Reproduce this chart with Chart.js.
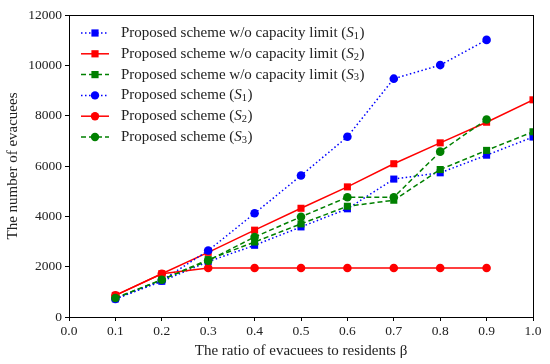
<!DOCTYPE html>
<html>
<head>
<meta charset="utf-8">
<script src="https://cdn.jsdelivr.net/npm/chart.js@4"></script>
<style>
  html, body { margin: 0; padding: 0; background: #fff; }
  #wrap { width: 550px; height: 364px; }
</style>
</head>
<body>
<div id="wrap"><canvas id="chart"></canvas></div>
<script>
// ratio of evacuees to residents (beta)
const beta = [0.1, 0.2, 0.3, 0.4, 0.5, 0.6, 0.7, 0.8, 0.9, 1.0];
const yTicks = [0, 2000, 4000, 6000, 8000, 10000, 12000];

// w/o capacity limit
const noLimitS1 = [720, 1420, 2200, 2850, 3580, 4300, 5480, 5730, 6430, 7150];
const noLimitS2 = [860, 1720, 2570, 3450, 4320, 5170, 6090, 6920, 7740, 8630];
const noLimitS3 = [740, 1480, 2280, 2980, 3700, 4400, 4640, 5860, 6620, 7360];
// with capacity limit (no point at 1.0)
const schemeS1 = [720, 1450, 2640, 4120, 5620, 7160, 9470, 10010, 11010];
const schemeS2 = [860, 1720, 1950, 1950, 1950, 1950, 1950, 1950, 1950];
const schemeS3 = [755, 1480, 2240, 3180, 3980, 4760, 4760, 6570, 7850];

const legendNames = [
  ['Proposed scheme w/o capacity limit (', '1'],
  ['Proposed scheme w/o capacity limit (', '2'],
  ['Proposed scheme w/o capacity limit (', '3'],
  ['Proposed scheme (', '1'],
  ['Proposed scheme (', '2'],
  ['Proposed scheme (', '3']
];

const BLUE = '#0000ff', RED = '#ff0000', GREEN = '#008000';
const DOT = [1.5, 2.5], DASH = [5, 3];
const FONT = "'Liberation Serif', 'DejaVu Serif', serif";

function pts(arr) { return arr.map((v, i) => ({ x: beta[i], y: v })); }

function mkSet(label, data, color, dash, shape, idx) {
  return {
    label: label,
    data: pts(data),
    borderColor: color,
    backgroundColor: color,
    borderWidth: 1.5,
    borderDash: dash,
    pointStyle: shape,
    pointRadius: shape === 'rect' ? 5 : 4.3,
    pointBorderWidth: 0,
    pointHoverRadius: 5,
    tension: 0,
    fill: false,
    order: 10 - idx
  };
}

const sets = [
  mkSet(legendNames[0].join(''), noLimitS1, BLUE, DOT, 'rect', 0),
  mkSet(legendNames[1].join(''), noLimitS2, RED, [], 'rect', 1),
  mkSet(legendNames[2].join(''), noLimitS3, GREEN, DASH, 'rect', 2),
  mkSet(legendNames[3].join(''), schemeS1, BLUE, DOT, 'circle', 3),
  mkSet(legendNames[4].join(''), schemeS2, RED, [], 'circle', 4),
  mkSet(legendNames[5].join(''), schemeS3, GREEN, DASH, 'circle', 5)
];

/* ─── box around plot + in-plot legend ─── */
const framePlugin = {
  id: 'frame',
  afterDraw(chart) {
    const { ctx, chartArea: a } = chart;
    ctx.save();
    ctx.strokeStyle = '#000';
    ctx.lineWidth = 1;
    ctx.strokeRect(Math.round(a.left) + 0.5, Math.round(a.top) + 0.5,
                   Math.round(a.right - a.left), Math.round(a.bottom - a.top));

    // legend
    const x0 = a.left + 12, rowH = 20.8, y0 = a.top + 18;
    const fs = 15;
    ctx.textBaseline = 'middle';
    sets.forEach((ds, i) => {
      const y = y0 + i * rowH;
      ctx.strokeStyle = ds.borderColor;
      ctx.lineWidth = 1.5;
      ctx.setLineDash(ds.borderDash);
      ctx.beginPath();
      ctx.moveTo(x0, y);
      ctx.lineTo(x0 + 28, y);
      ctx.stroke();
      ctx.setLineDash([]);
      ctx.fillStyle = ds.borderColor;
      if (ds.pointStyle === 'rect') {
        ctx.fillRect(x0 + 14 - 3.6, y - 3.6, 7.2, 7.2);
      } else {
        ctx.beginPath();
        ctx.arc(x0 + 14, y, 4.2, 0, Math.PI * 2);
        ctx.fill();
      }
      ctx.fillStyle = '#222';
      let tx = x0 + 40;
      ctx.font = fs + 'px ' + FONT;
      ctx.fillText(legendNames[i][0], tx, y);
      tx += ctx.measureText(legendNames[i][0]).width;
      ctx.font = 'italic ' + fs + 'px ' + FONT;
      ctx.fillText('S', tx, y);
      tx += ctx.measureText('S').width;
      ctx.font = '10.5px ' + FONT;
      ctx.fillText(legendNames[i][1], tx, y + 3);
      tx += ctx.measureText(legendNames[i][1]).width + 0.5;
      ctx.font = fs + 'px ' + FONT;
      ctx.fillText(')', tx, y);
    });
    ctx.restore();
  }
};

new Chart(document.getElementById('chart'), {
  type: 'line',
  data: { datasets: sets },
  options: {
    responsive: true,
    maintainAspectRatio: false,
    animation: false,
    layout: { padding: { top: 15, right: 17, left: 0, bottom: 0 } },
    plugins: {
      legend: { display: false },
      tooltip: { enabled: false }
    },
    scales: {
      x: {
        type: 'linear',
        min: 0, max: 1,
        afterBuildTicks: s => { s.ticks = [0, 0.1, 0.2, 0.3, 0.4, 0.5, 0.6, 0.7, 0.8, 0.9, 1.0].map(v => ({ value: v })); },
        afterFit: s => { s.height = 47; },
        grid: { drawOnChartArea: false, drawTicks: true, tickLength: 4, color: '#000' },
        border: { display: true, color: '#000', width: 1 },
        ticks: {
          color: '#222', padding: 2, maxRotation: 0,
          font: { family: FONT, size: 13.5 },
          callback: v => v.toFixed(1)
        },
        title: {
          display: true,
          text: 'The ratio of evacuees to residents β',
          color: '#222',
          font: { family: FONT, size: 15 },
          padding: { top: 2, bottom: 4 }
        }
      },
      y: {
        min: 0, max: 12000,
        afterBuildTicks: s => { s.ticks = yTicks.map(v => ({ value: v })); },
        afterFit: s => { s.width = 69; },
        grid: { drawOnChartArea: false, drawTicks: true, tickLength: 4, color: '#000' },
        border: { display: true, color: '#000', width: 1 },
        ticks: {
          color: '#222', padding: 3,
          font: { family: FONT, size: 13.5 },
          callback: v => String(v)
        },
        title: {
          display: true,
          text: 'The number of evacuees',
          color: '#222',
          font: { family: FONT, size: 15 },
          padding: { top: 4, bottom: 2 }
        }
      }
    }
  },
  plugins: [framePlugin]
});
</script>
</body>
</html>
